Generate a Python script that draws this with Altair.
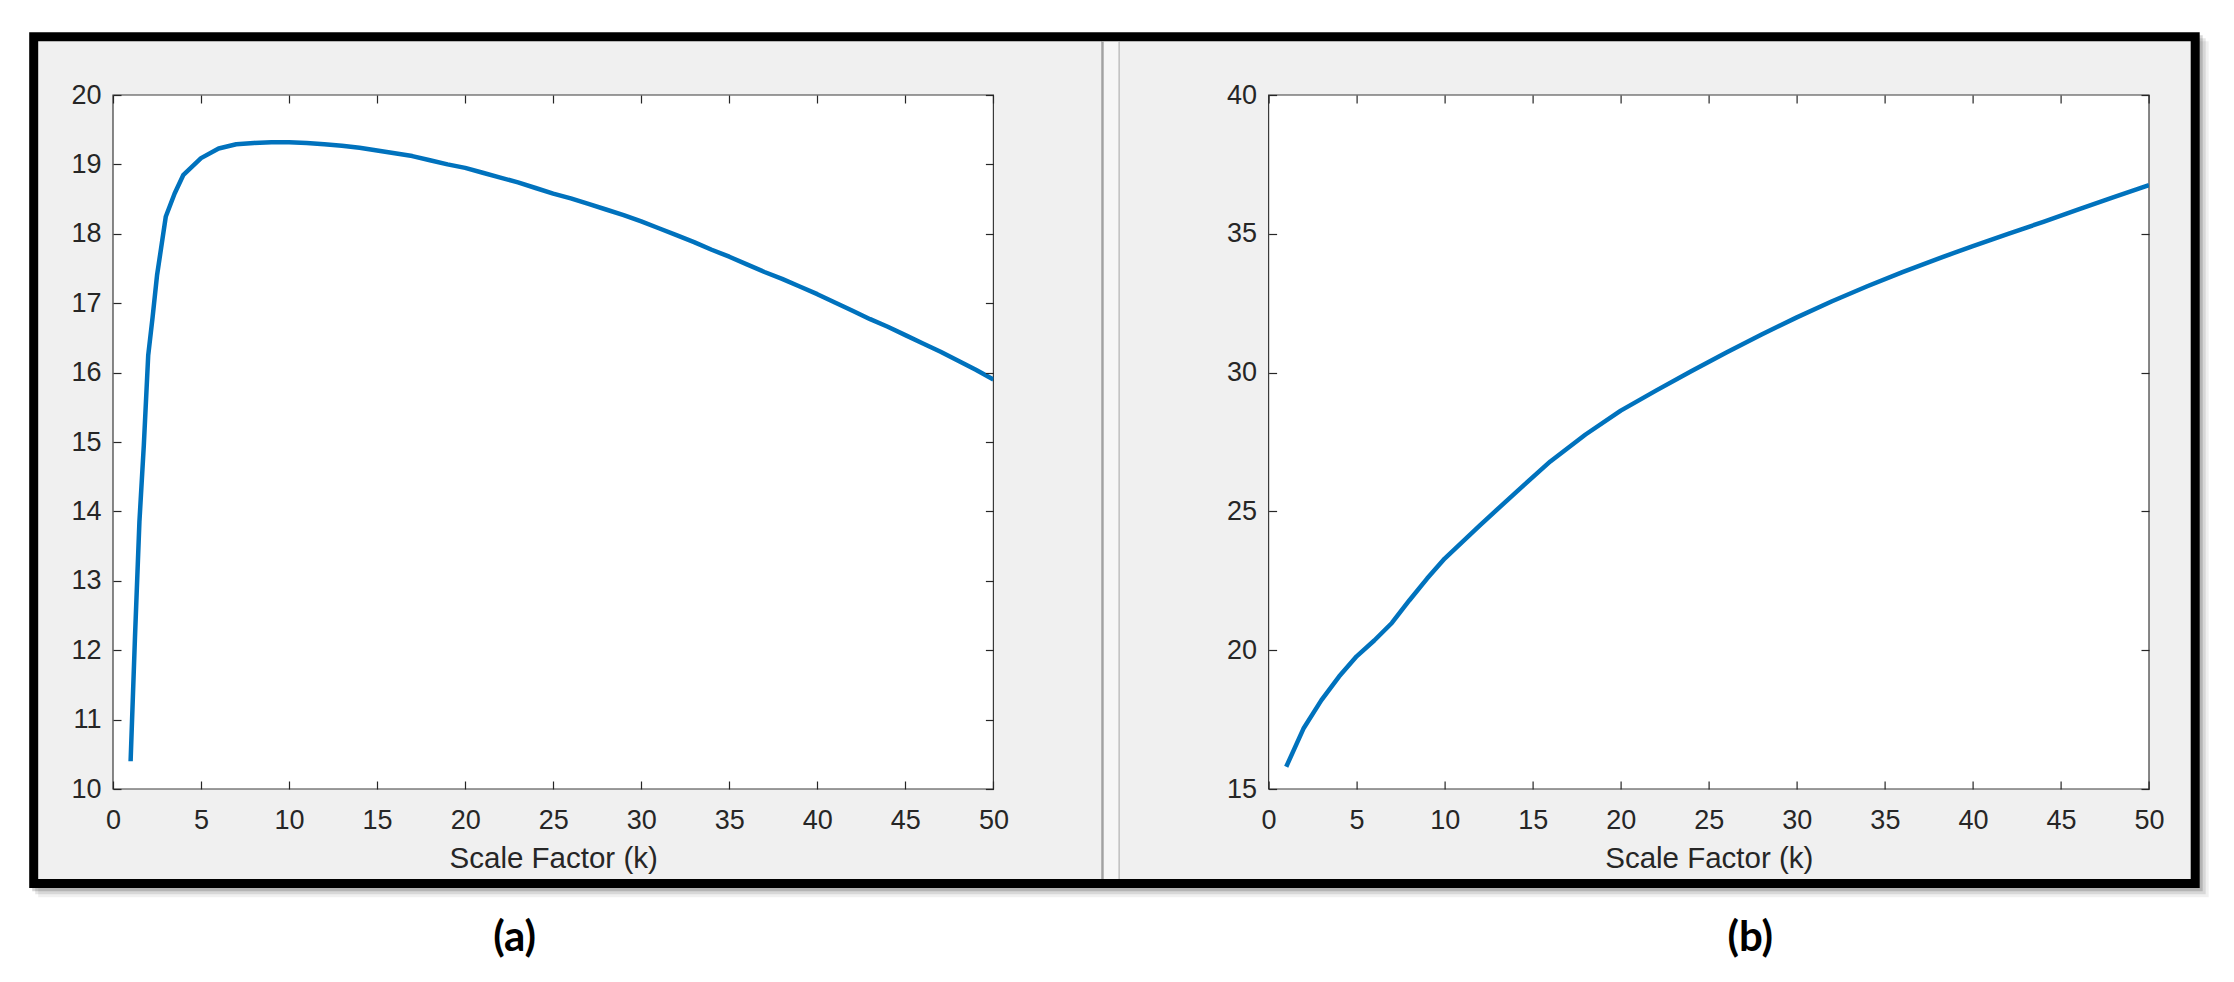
import altair as alt
import pandas as pd

# ---------------- data ----------------
k_a = [1, 1.25, 1.5, 1.75, 2, 2.25, 2.5, 3, 3.5, 4, 5, 6, 7, 8, 9, 10, 11, 12, 13, 14, 15,
       16, 17, 18, 19, 20, 21, 22, 23, 24, 25, 26, 27, 28, 29, 30, 31, 32, 33, 34, 35, 36,
       37, 38, 39, 40, 41, 42, 43, 44, 45, 46, 47, 48, 49, 50]
v_a = [10.4, 12.2, 13.85, 14.95, 16.25, 16.8, 17.4, 18.25, 18.58, 18.85, 19.09, 19.23, 19.29,
       19.31, 19.32, 19.32, 19.31, 19.29, 19.27, 19.24, 19.2, 19.16, 19.12, 19.06, 19.0, 18.95,
       18.88, 18.81, 18.74, 18.66, 18.58, 18.51, 18.43, 18.35, 18.27, 18.18, 18.08, 17.98,
       17.88, 17.77, 17.67, 17.56, 17.45, 17.35, 17.24, 17.13, 17.01, 16.89, 16.77, 16.66,
       16.54, 16.42, 16.3, 16.17, 16.04, 15.9]

k_b = [1, 2, 3, 4, 5, 6, 7, 8, 9, 10, 12, 14, 16, 18, 20, 22, 24, 26, 28, 30, 32, 34, 36, 38,
       40, 42, 44, 46, 48, 50]
v_b = [15.8, 17.2, 18.2, 19.05, 19.78, 20.35, 20.98, 21.8, 22.58, 23.3, 24.5, 25.66, 26.8,
       27.77, 28.63, 29.35, 30.05, 30.72, 31.37, 31.99, 32.57, 33.11, 33.62, 34.1, 34.56, 35.0,
       35.43, 35.88, 36.32, 36.75]

x_ticks = [0, 5, 10, 15, 20, 25, 30, 35, 40, 45, 50]
y_ticks_a = [10, 11, 12, 13, 14, 15, 16, 17, 18, 19, 20]
y_ticks_b = [15, 20, 25, 30, 35, 40]
x_domain = [0, 50]
y_domain_a = [10, 20]
y_domain_b = [15, 40]
x_title = "Scale Factor (k)"
captions = ["(a)", "(b)"]

# ---------------- layout / style ----------------
W, H = 880.4, 694
OX, OY = 112.3, 93.7          # page position of left plot area
SPACING = 274.6
FONT = "Liberation Sans"
INK = "#262626"
LINE_COLOR = "#0072BD"
GRAY = "#f0f0f0"

dummy = pd.DataFrame({"d": [0]})


def box(px1, py1, px2, py2, **style):
    """decoration rectangle given in page coordinates (relative to left plot)."""
    return alt.Chart(dummy).mark_rect(**style).encode(
        x=alt.value(px1 - OX), x2=alt.value(px2 - OX),
        y=alt.value(py1 - OY), y2=alt.value(py2 - OY))


def axes(values_y):
    common = dict(offset=-8, tickSize=8, tickColor=INK, tickWidth=1.2, domain=False,
                  grid=False, zindex=1)
    bottom = alt.Axis(orient="bottom", values=x_ticks, labelFont=FONT, labelFontSize=27,
                      labelColor=INK, labelPadding=39.3, labelBaseline="alphabetic",
                      labelFlush=False, labelOverlap=False, title=x_title,
                      titleFont=FONT, titleFontSize=29.5, titleFontWeight="normal",
                      titleColor=INK, titleBaseline="alphabetic", titleY=86.3, **common)
    left = alt.Axis(orient="left", values=values_y, labelFont=FONT, labelFontSize=27,
                    labelColor=INK, labelPadding=12, labelAlign="right",
                    labelBaseline="middle", labelFlush=False, labelOverlap=False,
                    title=None, **common)
    top = alt.Axis(orient="top", values=x_ticks, labels=False, title=None, **common)
    right = alt.Axis(orient="right", values=values_y, labels=False, title=None, **common)
    return bottom, left, top, right


def panel(df, y_domain, y_values):
    bottom, left, top, right = axes(y_values)
    xs = alt.Scale(domain=x_domain, nice=False, zero=False)
    ys = alt.Scale(domain=y_domain, nice=False, zero=False)
    plot_bg = alt.Chart(dummy).mark_rect(fill="white", stroke="#3a3a3a", strokeWidth=1.2).encode(
        x=alt.value(0), x2=alt.value(W), y=alt.value(0), y2=alt.value(H))
    line = alt.Chart(df).mark_line(color=LINE_COLOR, strokeWidth=4.5, clip=True,
                                   strokeJoin="round").encode(
        x=alt.X("k:Q", scale=xs, axis=bottom),
        y=alt.Y("v:Q", scale=ys, axis=left))
    ghost = alt.Chart(df).mark_line(opacity=0).encode(
        x=alt.X("k:Q", scale=xs, axis=top),
        y=alt.Y("v:Q", scale=ys, axis=right))
    return plot_bg, line, ghost


def caption(text, page_x):
    return alt.Chart(dummy).mark_text(font="Lato", fontWeight="bold", fontSize=42,
                                      color="black", align="center", baseline="middle").encode(
        x=alt.value(page_x), y=alt.value(937 - OY), text=alt.value(text))


df_a = pd.DataFrame({"k": k_a, "v": v_a})
df_b = pd.DataFrame({"k": k_b, "v": v_b})

# decorations (figure window frame, shadow, gray panels, divider)
decor = [
    box(8, 8, 2220, 970, fill="white"),
    box(37.5, 40, 2208, 896, fill="black", opacity=0.06),
    box(34.5, 37, 2205, 893, fill="black", opacity=0.10),
    box(31.5, 34, 2202, 890, fill="black", opacity=0.16),
    box(28.5, 31, 2199, 886.7, fill="black"),
    box(37.5, 40, 1101, 877.7, fill=GRAY),
    box(1101, 40, 1119, 877.7, fill="#f6f6f6"),
    box(1101, 40, 1103, 877.7, fill="#a2a2a2"),
    box(1117.8, 40, 1119, 877.7, fill="#b4b4b4"),
    box(1119, 40, 2190, 877.7, fill=GRAY),
]

bg_a, line_a, ghost_a = panel(df_a, y_domain_a, y_ticks_a)
left_chart = alt.layer(*decor, bg_a, line_a, ghost_a,
                       caption(captions[0], 514 - OX)).resolve_axis(
    x="independent", y="independent").properties(width=W, height=H)

bg_b, line_b, ghost_b = panel(df_b, y_domain_b, y_ticks_b)
OXB = OX + W + SPACING
right_chart = alt.layer(bg_b, line_b, ghost_b,
                        caption(captions[1], 1749 - OXB)).resolve_axis(
    x="independent", y="independent").properties(width=W, height=H)

chart = alt.hconcat(left_chart, right_chart, spacing=SPACING, bounds="flush").properties(
    padding=0).configure_view(stroke="transparent")

chart.save("out.html", embed_options={"renderer": "svg", "actions": False})
